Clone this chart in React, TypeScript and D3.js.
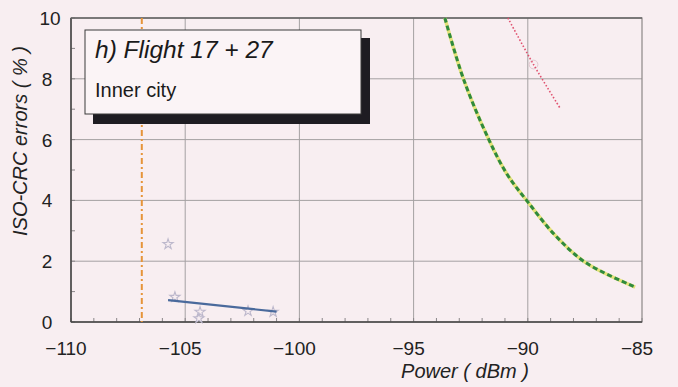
import * as d3 from 'd3'
import { useEffect, useRef } from 'react'

const xTicks = [-110, -105, -100, -95, -90, -85]
const yTicks = [0, 2, 4, 6, 8, 10]

// green fit curve (dashed over yellow)
const greenPower = [-93.63, -92.8, -91.7, -90.9, -90, -88.8, -87.5, -85.3]
const greenErr = [10, 7.96, 5.99, 4.85, 3.95, 2.85, 1.97, 1.15]

// red dotted curve
const redPower = [-90.87, -89.75, -88.6]
const redErr = [10, 8.47, 7.05]

// blue fit
const bluePower = [-105.75, -101.0]
const blueErr = [0.72, 0.34]

// faint measured points
const markPower = [-105.75, -105.45, -104.35, -104.4, -102.25, -101.15]
const markErr = [2.56, 0.82, 0.33, 0.12, 0.36, 0.33]
const redMarkPower = [-89.75]
const redMarkErr = [8.47]

const sensitivity = -106.9

const W = 678
const H = 387
const FONT = '"Liberation Sans", Arial, Helvetica, sans-serif'

export default function App() {
  const ref = useRef<SVGSVGElement>(null)

  useEffect(() => {
    if (!ref.current) return
    const svg = d3.select(ref.current)
    svg.selectAll('*').remove()

    const x = d3.scaleLinear().domain([-110, -85]).range([71, 642])
    const y = d3.scaleLinear().domain([0, 10]).range([322, 18])

    svg.append('rect').attr('width', W).attr('height', H).attr('fill', '#f8eef1')

    const g = svg.append('g')

    // grid
    g.selectAll('line.gx').data(xTicks.slice(1, -1)).enter().append('line')
      .attr('x1', d => x(d)).attr('x2', d => x(d))
      .attr('y1', y(0)).attr('y2', y(10))
      .attr('stroke', '#a4a0a2').attr('stroke-width', 1)
    g.selectAll('line.gy').data(yTicks.slice(1, -1)).enter().append('line')
      .attr('x1', x(-110)).attr('x2', x(-85))
      .attr('y1', d => y(d)).attr('y2', d => y(d))
      .attr('stroke', '#a4a0a2').attr('stroke-width', 1)

    // minor ticks
    g.selectAll('line.mx').data(d3.range(-110, -84, 1)).enter().append('line')
      .attr('x1', d => x(d)).attr('x2', d => x(d))
      .attr('y1', y(0)).attr('y2', y(0) - 4)
      .attr('stroke', '#8a8688')
    g.selectAll('line.my').data(d3.range(0, 11, 1)).enter().append('line')
      .attr('x1', x(-110)).attr('x2', x(-110) + 4)
      .attr('y1', d => y(d)).attr('y2', d => y(d))
      .attr('stroke', '#8a8688')

    // frame
    g.append('rect')
      .attr('x', x(-110)).attr('y', y(10))
      .attr('width', x(-85) - x(-110)).attr('height', y(0) - y(10))
      .attr('fill', 'none').attr('stroke', '#8c8888').attr('stroke-width', 1.2)
    g.append('line').attr('x1', x(-110)).attr('x2', x(-110)).attr('y1', y(10)).attr('y2', y(0))
      .attr('stroke', '#444').attr('stroke-width', 1.5)
    g.append('line').attr('x1', x(-110)).attr('x2', x(-85)).attr('y1', y(0)).attr('y2', y(0))
      .attr('stroke', '#444').attr('stroke-width', 1.5)
    g.append('line').attr('x1', x(-110)).attr('x2', x(-85)).attr('y1', y(10)).attr('y2', y(10))
      .attr('stroke', '#666').attr('stroke-width', 1.5)

    // sensitivity line
    g.append('line')
      .attr('x1', x(sensitivity)).attr('x2', x(sensitivity))
      .attr('y1', y(10)).attr('y2', y(0))
      .attr('stroke', '#e6943a').attr('stroke-width', 2)
      .attr('stroke-dasharray', '6 3 2 3')

    // markers
    const star = d3.symbol().type(d3.symbolStar).size(32)
    g.selectAll('path.mk').data(markPower).enter().append('path')
      .attr('d', star as any)
      .attr('transform', (d, i) => `translate(${x(d)},${y(markErr[i])})`)
      .attr('fill', 'none').attr('stroke', '#bdb8cc').attr('stroke-width', 1.1)
    g.selectAll('path.rmk').data(redMarkPower).enter().append('path')
      .attr('d', d3.symbol().type(d3.symbolCircle).size(60) as any)
      .attr('transform', (d, i) => `translate(${x(d)},${y(redMarkErr[i])})`)
      .attr('fill', 'none').attr('stroke', '#e2c8d0').attr('stroke-width', 1)

    const line = d3.line<number>()
      .x(d => x(d))
      .curve(d3.curveCatmullRom.alpha(0.5))

    // blue
    g.append('path')
      .attr('d', line.y((_d, i) => y(blueErr[i]))(bluePower))
      .attr('fill', 'none').attr('stroke', '#4a6a9c').attr('stroke-width', 2.2)

    // green over yellow
    const gp = line.y((_d, i) => y(greenErr[i]))(greenPower)
    g.append('path').attr('d', gp)
      .attr('fill', 'none').attr('stroke', '#e4e27a').attr('stroke-width', 3.5)
    g.append('path').attr('d', gp)
      .attr('fill', 'none').attr('stroke', '#2f8a3e').attr('stroke-width', 3)
      .attr('stroke-dasharray', '5 3')

    // red dotted
    g.append('path')
      .attr('d', line.y((_d, i) => y(redErr[i]))(redPower))
      .attr('fill', 'none').attr('stroke', '#e0506e').attr('stroke-width', 1.6)
      .attr('stroke-dasharray', '1.5 2')

    // tick labels
    g.selectAll('text.xt').data(xTicks).enter().append('text')
      .attr('x', d => x(d) - 5).attr('y', 355)
      .attr('text-anchor', 'middle')
      .attr('font-family', FONT).attr('font-size', 19).attr('fill', '#222')
      .text(d => d3.format('')(d).replace('-', '\u2212'))
    g.selectAll('text.yt').data(yTicks).enter().append('text')
      .attr('x', d => d === 10 ? 50 : 47).attr('y', d => y(d) + 7)
      .attr('text-anchor', 'middle')
      .attr('font-family', FONT).attr('font-size', 19).attr('fill', '#222')
      .text(d => d)

    // axis titles
    g.append('text')
      .attr('x', 465).attr('y', 378)
      .attr('text-anchor', 'middle')
      .attr('font-family', FONT).attr('font-size', 20).attr('font-style', 'italic').attr('fill', '#222')
      .text('Power ( dBm )')
    g.append('text')
      .attr('transform', 'translate(27,141) rotate(-90)')
      .attr('text-anchor', 'middle')
      .attr('font-family', FONT).attr('font-size', 20).attr('font-style', 'italic').attr('fill', '#222')
      .text('ISO-CRC errors ( % )')

    // title box with shadow
    g.append('rect').attr('x', 93).attr('y', 38).attr('width', 277).attr('height', 86).attr('fill', '#1e1c22')
    g.append('rect').attr('x', 85).attr('y', 30).attr('width', 276).attr('height', 84)
      .attr('fill', '#fbf4f6').attr('stroke', '#3a3a3a').attr('stroke-width', 1)
    g.append('text').attr('x', 95).attr('y', 58)
      .attr('font-family', FONT).attr('font-size', 24.5).attr('font-style', 'italic').attr('fill', '#1a1a1a')
      .text('h) Flight 17 + 27')
    g.append('text').attr('x', 95).attr('y', 97)
      .attr('font-family', FONT).attr('font-size', 20).attr('fill', '#1a1a1a')
      .text('Inner city')
  }, [])

  return (
    <div style={{ position: 'absolute', left: 0, top: 0 }}>
      <svg ref={ref} width={W} height={H} style={{ display: 'block' }} />
    </div>
  )
}
